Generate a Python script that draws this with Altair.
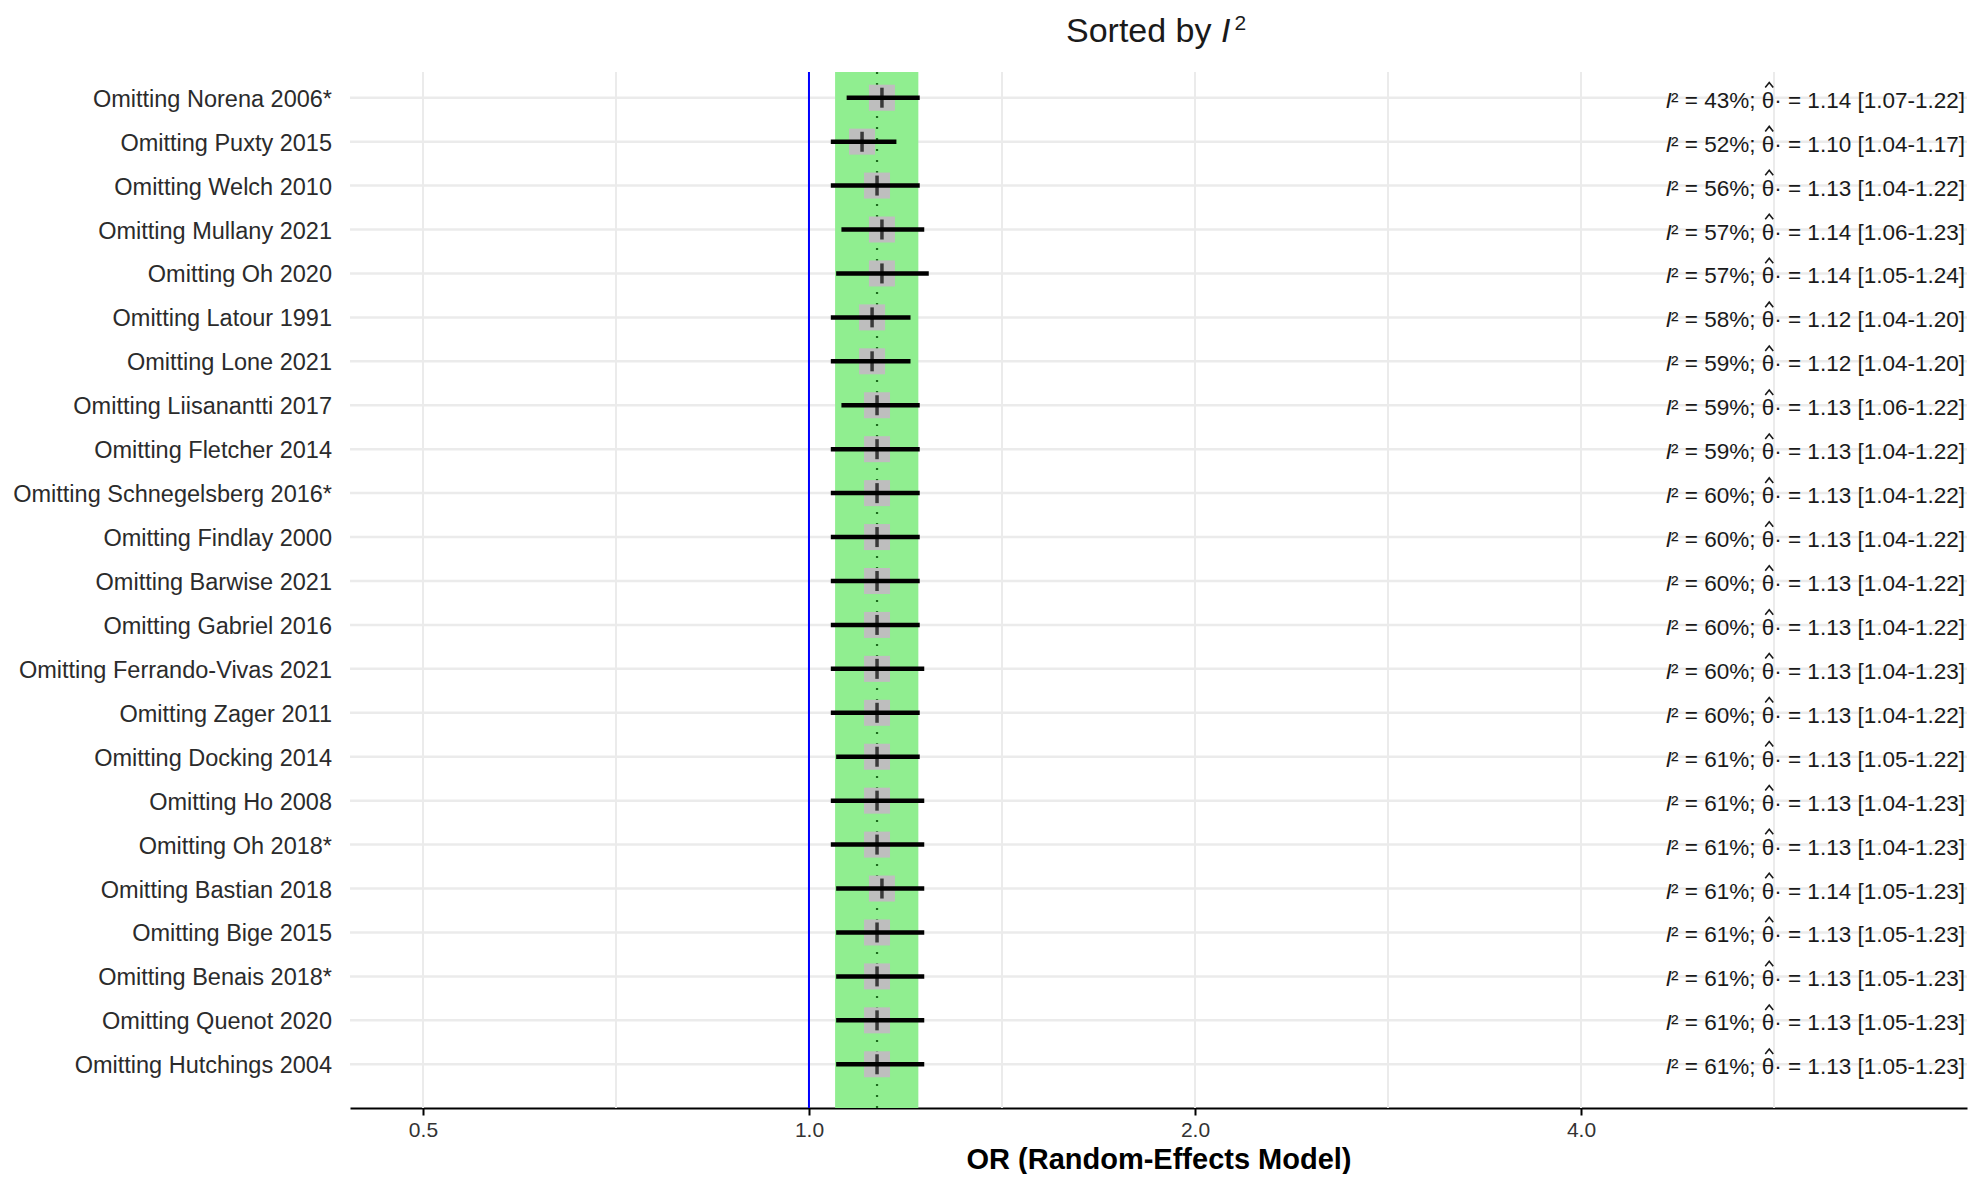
import altair as alt
import pandas as pd

studies = [
    "Omitting Norena 2006*", "Omitting Puxty 2015", "Omitting Welch 2010",
    "Omitting Mullany 2021", "Omitting Oh 2020", "Omitting Latour 1991",
    "Omitting Lone 2021", "Omitting Liisanantti 2017", "Omitting Fletcher 2014",
    "Omitting Schnegelsberg 2016*", "Omitting Findlay 2000", "Omitting Barwise 2021",
    "Omitting Gabriel 2016", "Omitting Ferrando-Vivas 2021", "Omitting Zager 2011",
    "Omitting Docking 2014", "Omitting Ho 2008", "Omitting Oh 2018*",
    "Omitting Bastian 2018", "Omitting Bige 2015", "Omitting Benais 2018*",
    "Omitting Quenot 2020", "Omitting Hutchings 2004",
]
i2 = [43, 52, 56, 57, 57, 58, 59, 59, 59, 60, 60, 60, 60, 60, 60, 61, 61, 61, 61, 61, 61, 61, 61]
est = [1.14, 1.10, 1.13, 1.14, 1.14, 1.12, 1.12, 1.13, 1.13, 1.13, 1.13, 1.13,
       1.13, 1.13, 1.13, 1.13, 1.13, 1.13, 1.14, 1.13, 1.13, 1.13, 1.13]
lower = [1.07, 1.04, 1.04, 1.06, 1.05, 1.04, 1.04, 1.06, 1.04, 1.04, 1.04, 1.04,
         1.04, 1.04, 1.04, 1.05, 1.04, 1.04, 1.05, 1.05, 1.05, 1.05, 1.05]
upper = [1.22, 1.17, 1.22, 1.23, 1.24, 1.20, 1.20, 1.22, 1.22, 1.22, 1.22, 1.22,
         1.22, 1.23, 1.22, 1.22, 1.23, 1.23, 1.23, 1.23, 1.23, 1.23, 1.23]

overall_est = 1.13
overall_lower = 1.048
overall_upper = 1.217
null_value = 1.0
tick_values = [0.5, 1.0, 2.0, 4.0]
grid_values = [0.5, 0.7071, 1.0, 1.4142, 2.0, 2.8284, 4.0, 5.6569]
x_domain = [0.4386, 8.0]

W, H = 1617, 1036
FONT = "Liberation Sans"
ANN_FS = 22.5

df = pd.DataFrame({
    "study": studies, "i2": i2, "est": est, "lower": lower, "upper": upper,
    "idx": list(range(len(studies))),
})
# text after the italic "I" (hat drawn separately over theta)
df["ann"] = [
    f"² = {a}%; θ· = {e:.2f} [{l:.2f}-{u:.2f}]"
    for a, e, l, u in zip(i2, est, lower, upper)
]
grid_df = pd.DataFrame({"g": grid_values})
ov_df = pd.DataFrame({"lo": [overall_lower], "hi": [overall_upper], "est": [overall_est], "null": [null_value]})

xs = alt.Scale(type="log", base=2, domain=x_domain, nice=False, zero=False)
ys = alt.Scale(domain=[-0.585, 22.995], reverse=True, nice=False, zero=False)

xaxis = alt.Axis(
    values=tick_values, format=".1f", grid=False,
    domainColor="black", domainWidth=2.2, tickColor="black", tickWidth=2,
    tickSize=7, labelFontSize=21, labelColor="#333333", labelFont=FONT,
    labelPadding=4, title="OR (Random-Effects Model)", titleFont=FONT,
    titleFontSize=29, titleFontWeight="bold", titleColor="black", titlePadding=5,
)


def X(field):
    return alt.X(field, scale=xs, axis=xaxis)


Y = alt.Y("idx:Q", scale=ys, axis=None)

vgrid = alt.Chart(grid_df).mark_rule(color="#EBEBEB", strokeWidth=2).encode(x=X("g:Q"))
hgrid = alt.Chart(df).mark_rule(color="#EBEBEB", strokeWidth=2.5).encode(y=Y)
band = alt.Chart(ov_df).mark_rect(color="#90EE90").encode(
    x=X("lo:Q"), x2="hi:Q", y=alt.value(0), y2=alt.value(H),
)
dotted = alt.Chart(ov_df).mark_rule(color="#1E6B1E", strokeWidth=2.2, strokeDash=[2, 9]).encode(
    x=X("est:Q")
)
nullline = alt.Chart(ov_df).mark_rule(color="#0000FF", strokeWidth=2).encode(x=X("null:Q"))
squares = alt.Chart(df).mark_square(color="#BEBEBE", opacity=1, size=676).encode(
    x=X("est:Q"), y=Y
)
ci = alt.Chart(df).mark_rule(color="black", strokeWidth=4.5).encode(
    x=X("lower:Q"), x2="upper:Q", y=Y,
)
ticks = alt.Chart(df).mark_tick(color="black", orient="vertical", size=20, thickness=3.5).encode(
    x=X("est:Q"), y=Y
)
labels = alt.Chart(df).mark_text(
    align="right", baseline="middle", fontSize=23.5, font=FONT, color="#2b2b2b", dy=2
).encode(x=alt.value(-18), y=Y, text="study:N")

ann_x = W - 2
rest_w = 13.009 * ANN_FS        # width of the text after "I"
theta_c = 8.701 * ANN_FS        # theta centre measured from the right end
ann = alt.Chart(df).mark_text(
    align="right", baseline="middle", fontSize=ANN_FS, font=FONT, color="#1a1a1a", dy=3
).encode(x=alt.value(ann_x), y=Y, text="ann:N")
ann_i = alt.Chart(df).mark_text(
    align="right", baseline="middle", fontSize=ANN_FS, font=FONT, color="#1a1a1a",
    fontStyle="italic", dy=3, text="I"
).encode(x=alt.value(ann_x - rest_w - 0.5), y=Y)
# circumflex accent over theta, drawn as a small caret path
ann_hat = alt.Chart(df).transform_calculate(
    hat_y="datum.idx - 0.29"
).mark_point(
    shape="M-0.8,0.5L0,-0.5L0.8,0.5", filled=False, stroke="#1a1a1a",
    strokeWidth=1.6, size=100, opacity=1,
).encode(x=alt.value(ann_x - theta_c), y=alt.Y("hat_y:Q", scale=ys, axis=None))

# title built from text pieces so that "I" can be italic
T_FS = 34
t_start = 716.0
w_sorted = 4.558 * T_FS
title_a = alt.Chart(ov_df).mark_text(
    align="left", baseline="alphabetic", fontSize=T_FS, font=FONT, color="#1a1a1a", text="Sorted by"
).encode(x=alt.value(t_start), y=alt.value(-30))
title_i = alt.Chart(ov_df).mark_text(
    align="left", baseline="alphabetic", fontSize=T_FS, font=FONT, color="#1a1a1a",
    fontStyle="italic", text="I"
).encode(x=alt.value(t_start + w_sorted), y=alt.value(-30))
title_2 = alt.Chart(ov_df).mark_text(
    align="left", baseline="alphabetic", fontSize=21, font=FONT, color="#1a1a1a", text="2"
).encode(x=alt.value(t_start + w_sorted + 0.278 * T_FS + 4), y=alt.value(-42))

chart = alt.layer(
    vgrid, hgrid, band, dotted, nullline, squares, ci, ticks, labels,
    ann, ann_i, ann_hat, title_a, title_i, title_2
).properties(
    width=W, height=H,
    autosize=alt.AutoSizeParams(type="none"),
    padding={"left": 342, "top": 64, "right": 11, "bottom": 66},
).configure(background="white").configure_view(stroke=None)

chart.save("out.html", embed_options={"renderer": "svg", "actions": False})
